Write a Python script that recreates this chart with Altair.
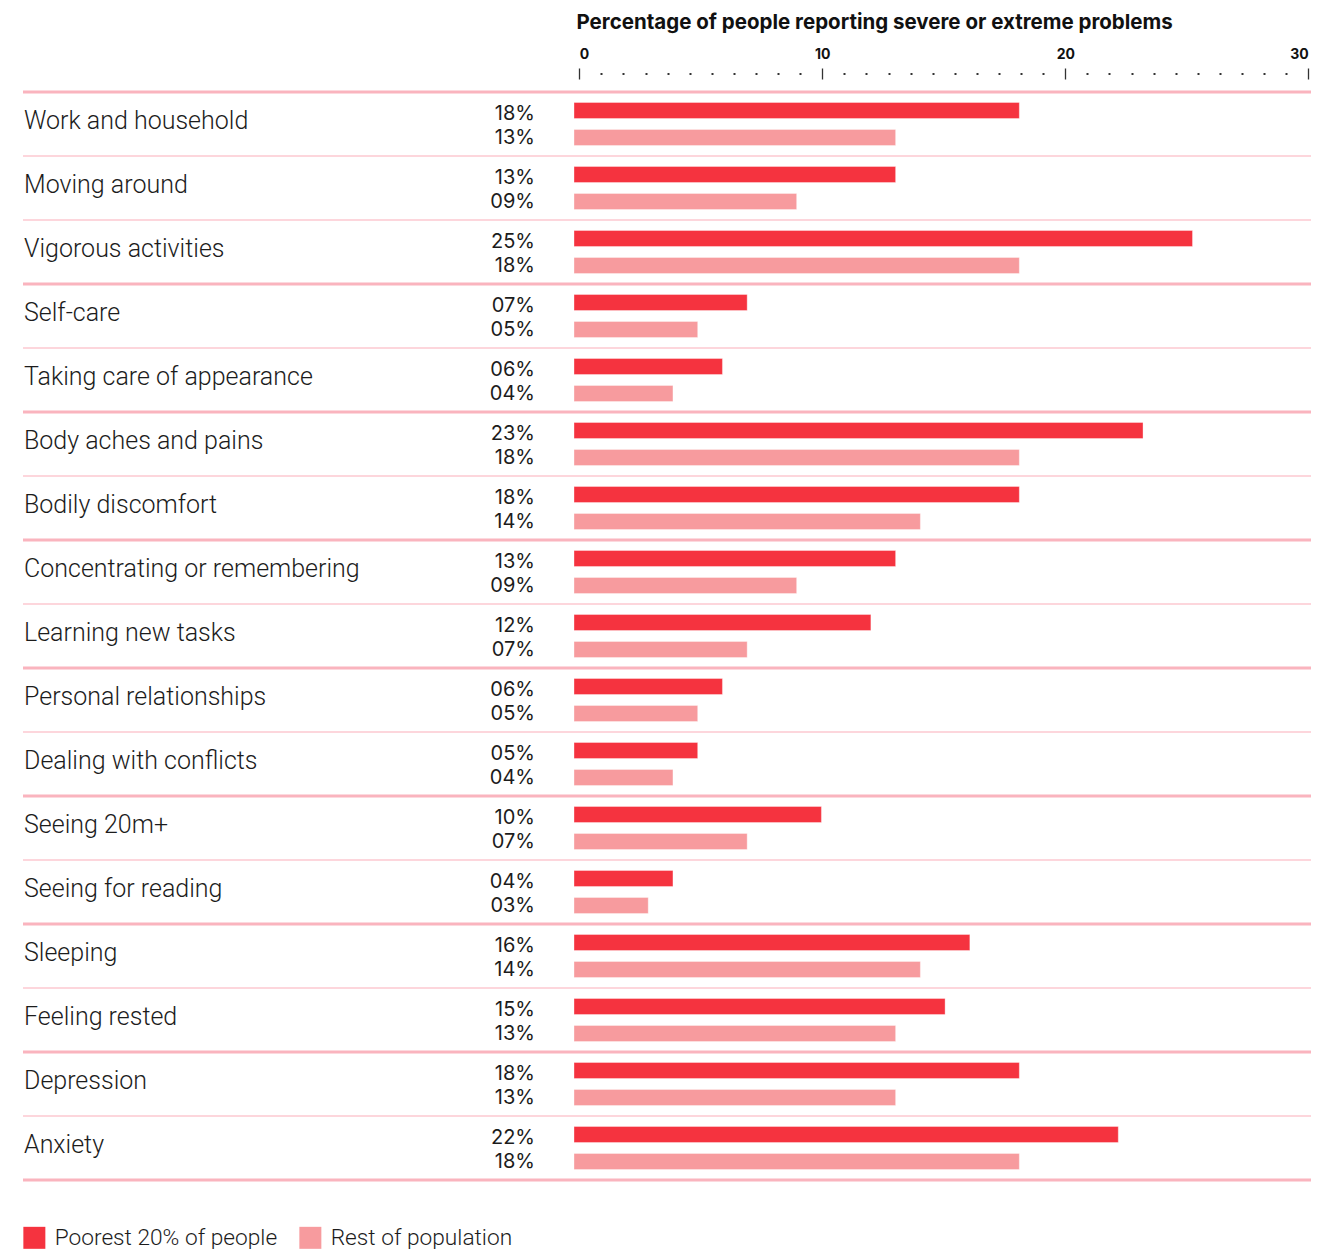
import altair as alt
import pandas as pd

# ---------------- data ----------------
categories = [
    "Work and household", "Moving around", "Vigorous activities",
    "Self-care", "Taking care of appearance",
    "Body aches and pains", "Bodily discomfort",
    "Concentrating or remembering", "Learning new tasks",
    "Personal relationships", "Dealing with conflicts",
    "Seeing 20m+", "Seeing for reading",
    "Sleeping", "Feeling rested",
    "Depression", "Anxiety",
]
poorest = [18, 13, 25, 7, 6, 23, 18, 13, 12, 6, 5, 10, 4, 16, 15, 18, 22]
rest = [13, 9, 18, 5, 4, 18, 14, 9, 7, 5, 4, 7, 3, 14, 13, 13, 18]
domains = [
    "Mobility", "Mobility", "Mobility",
    "Self-care", "Self-care",
    "Pain", "Pain",
    "Cognition", "Cognition",
    "Interpersonal", "Interpersonal",
    "Vision", "Vision",
    "Sleep", "Sleep",
    "Affect", "Affect",
]
series_names = ["Poorest 20% of people", "Rest of population"]
major_ticks = [0, 10, 20, 30]
dots_between = 10
title_text = "Percentage of people reporting severe or extreme problems"

# ---------------- styling ----------------
DARK = "#f5333f"
LIGHT = "#f79b9e"
THICK = "#fab4be"
THIN = "#fdd6dc"
TEXT = "#1c1c1c"
FONT = "Roboto"
FONT2 = "Inter"

n = len(categories)
ROW_H = 64
PLOT_W = 1288
PLOT_H = ROW_H * n

bar_px0, bar_k = 551.0, 24.74
bar_domain = [-bar_px0 / bar_k, (PLOT_W - bar_px0) / bar_k]
axis_px0, axis_k = 556.3, 24.3
axis_domain = [-axis_px0 / axis_k, (PLOT_W - axis_px0) / axis_k]

name_x = bar_domain[0] + 1.0 / bar_k
pct_x = -39.0 / bar_k

tick_values = []
for a, b in zip(major_ticks[:-1], major_ticks[1:]):
    for i in range(dots_between + 1):
        tick_values.append(a + (b - a) * i / (dots_between + 1))
tick_values.append(major_ticks[-1])

bars_df = pd.DataFrame({
    "category": categories * 2,
    "series": [series_names[0]] * n + [series_names[1]] * n,
    "value": poorest + rest,
})
rows_df = pd.DataFrame({"category": categories, "domain": domains})
rows_df["section_end"] = rows_df["domain"] != rows_df["domain"].shift(-1)
top_df = rows_df.iloc[[0]].copy()

bar_scale = alt.Scale(domain=bar_domain, nice=False, zero=False)
axis_scale = alt.Scale(domain=axis_domain, nice=False, zero=False)
y_scale = alt.Scale(domain=categories, paddingInner=0, paddingOuter=0)
yoff_scale = alt.Scale(domain=series_names, paddingInner=0.4074, paddingOuter=0.3889)

is_major = "abs(datum.value - round(datum.value / 10) * 10) < 0.001"
top_axis = alt.Axis(
    orient="top", values=tick_values, title=None,
    labelExpr=f"{is_major} ? datum.label : ''",
    labelFlush=False, labelOverlap=False,
    labelAlign={"condition": [
        {"test": "datum.value < 0.001", "value": "left"},
        {"test": f"datum.value > {major_ticks[-1]} - 0.001", "value": "right"},
    ], "value": "center"},
    labelFont=FONT2, labelFontSize=14, labelFontWeight="bold", labelColor="#111111",
    labelPadding=7, tickSize=11, tickColor="#333333",
    tickWidth={"condition": {"test": f"!({is_major})", "value": 2}, "value": 1.3},
    tickDash={"condition": {"test": f"!({is_major})", "value": [0, 4.5, 2, 20]}, "value": [20, 0]},
    domain=False, grid=False, offset=13,
)

rules_bottom = alt.Chart(rows_df).mark_rule().encode(
    x=alt.XDatum(axis_domain[0], type="quantitative", scale=axis_scale, axis=top_axis),
    x2=alt.X2Datum(axis_domain[1]),
    y=alt.Y("category:N", bandPosition=1, scale=y_scale, axis=None),
    color=alt.condition(alt.datum.section_end, alt.value(THICK), alt.value(THIN)),
    strokeWidth=alt.condition(alt.datum.section_end, alt.value(3), alt.value(2)),
)
rules_top = alt.Chart(top_df).mark_rule(color=THICK, strokeWidth=3).encode(
    x=alt.XDatum(axis_domain[0], type="quantitative", scale=axis_scale, axis=None),
    x2=alt.X2Datum(axis_domain[1]),
    y=alt.Y("category:N", bandPosition=0, scale=y_scale, axis=None),
)

legend = alt.Legend(
    title=None, orient="none", legendX=0, legendY=1134, direction="horizontal",
    symbolType="square", symbolSize=484, symbolStrokeWidth=0, symbolOpacity=1,
    labelFont=FONT, labelFontSize=22.7, labelFontWeight=300, labelColor=TEXT,
    labelLimit=0, columnPadding=21, labelOffset=9,
)

bars = alt.Chart(bars_df).mark_bar(stroke="white", strokeOpacity=0.35, strokeWidth=1).encode(
    x=alt.X("value:Q", scale=bar_scale, axis=None),
    x2=alt.X2Datum(0),
    y=alt.Y("category:N", scale=y_scale, axis=None),
    yOffset=alt.YOffset("series:N", scale=yoff_scale),
    color=alt.Color("series:N", scale=alt.Scale(domain=series_names, range=[DARK, LIGHT]), legend=legend),
)

pct_base = alt.Chart(bars_df).transform_calculate(
    label="format(datum.value, '02d') + '%'"
)
pct_enc = dict(
    x=alt.XDatum(pct_x, type="quantitative", scale=bar_scale, axis=None),
    y=alt.Y("category:N", scale=y_scale, axis=None),
    yOffset=alt.YOffset("series:N", scale=yoff_scale),
    text=alt.Text("label:N"),
)
pct_dark = pct_base.transform_filter(alt.datum.series == series_names[0]).mark_text(
    align="right", baseline="alphabetic", dy=9.5, font=FONT2, fontSize=20, fontWeight=400, color=TEXT
).encode(**pct_enc)
pct_light = pct_base.transform_filter(alt.datum.series == series_names[1]).mark_text(
    align="right", baseline="alphabetic", dy=6.6, font=FONT2, fontSize=20, fontWeight=400, color=TEXT
).encode(**pct_enc)

names = alt.Chart(rows_df).mark_text(
    align="left", baseline="alphabetic", dy=5.3, font=FONT, fontSize=25, fontWeight=300, color=TEXT
).encode(
    x=alt.XDatum(name_x, type="quantitative", scale=bar_scale, axis=None),
    y=alt.Y("category:N", scale=y_scale, axis=None),
    text=alt.Text("category:N"),
)

chart = alt.layer(
    rules_bottom, rules_top, bars, pct_dark, pct_light, names
).resolve_scale(x="independent").properties(
    width=PLOT_W, height=PLOT_H,
    title=alt.TitleParams(title_text, anchor="start", dx=555, font=FONT2, fontSize=20.5,
                          fontWeight="bold", color="#111111", offset=14),
    padding={"left": 13, "top": 4, "right": 5, "bottom": 5},
).configure_view(stroke=None)

chart.save("out.html", embed_options={"renderer": "svg", "actions": False})
